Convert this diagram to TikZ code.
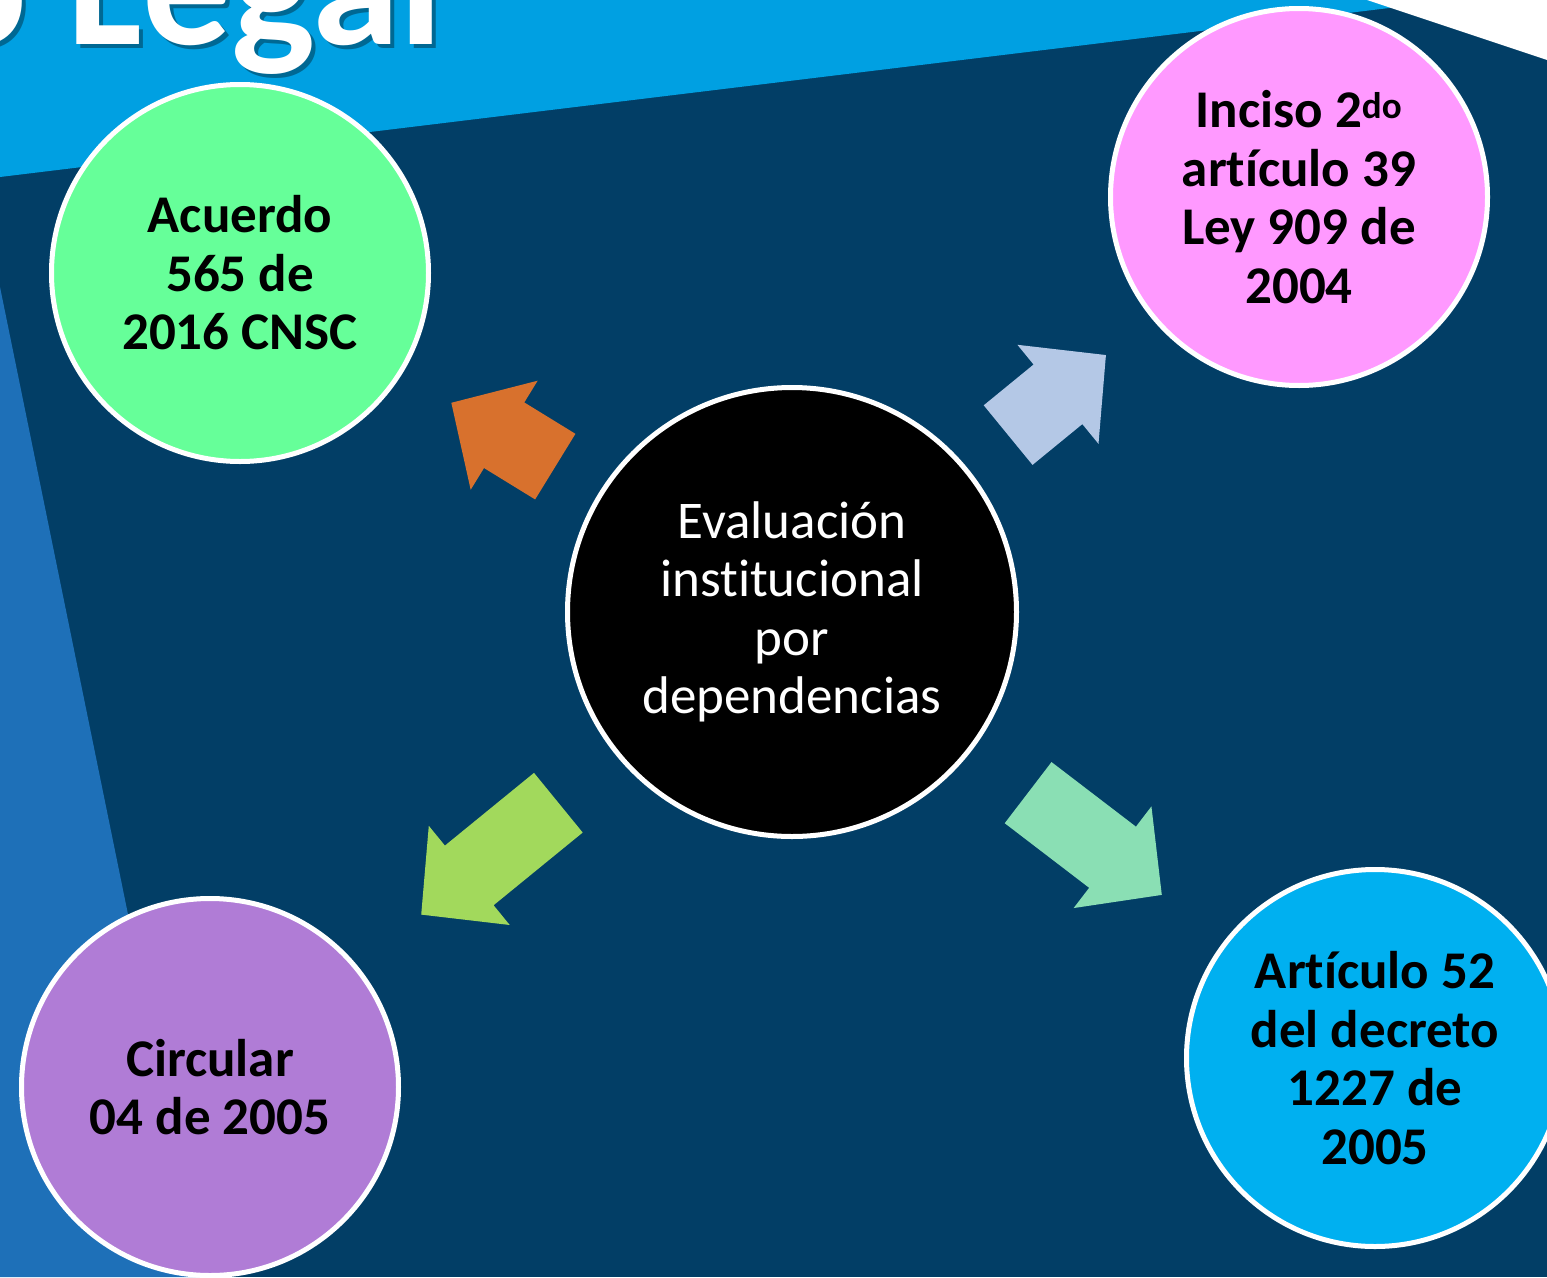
\documentclass[tikz,border=0pt]{standalone}
\usepackage{fontspec}
\setmainfont{Carlito}[Ligatures=NoCommon]
\usetikzlibrary{calc}
\definecolor{fondo}{RGB}{2,62,102}
\definecolor{franja}{RGB}{0,160,226}
\definecolor{lateral}{RGB}{30,112,184}
\definecolor{verde}{RGB}{102,255,153}
\definecolor{rosa}{RGB}{255,153,255}
\definecolor{lila}{RGB}{176,124,214}
\definecolor{celeste}{RGB}{0,176,240}
\definecolor{naranja}{RGB}{216,113,45}
\definecolor{azulclaro}{RGB}{180,200,230}
\definecolor{lima}{RGB}{162,217,92}
\definecolor{menta}{RGB}{138,223,180}

\begin{document}
\begin{tikzpicture}[x=1pt,y=-1pt]

\newcommand{\flecha}[6]{%
  \coordinate (bk) at ($(#1)!#3pt!(#2)$);
  \coordinate (nk) at ($(#1)!#4pt!(#2)$);
  \coordinate (tp) at ($(#1)!#5pt!(#2)$);
  \fill[#6] ($(bk)!38.5pt!90:(tp)$) -- ($(nk)!38.5pt!90:(tp)$)
    -- ($(nk)!64pt!90:(tp)$) -- (tp) -- ($(nk)!64pt!-90:(tp)$)
    -- ($(nk)!38.5pt!-90:(tp)$) -- ($(bk)!38.5pt!-90:(tp)$) -- cycle;
}
\useasboundingbox (0,0) rectangle (1547,1277);
\clip (0,0) rectangle (1547,1277);

% background bands
\fill[fondo] (0,0) rectangle (1547,1277);
\fill[franja] (0,0) -- (1455,0) -- (0,177) -- cycle;
\fill[lateral] (0,287) -- (202,1277) -- (0,1277) -- cycle;
\fill[white] (1367,0) -- (1547,0) -- (1547,60) -- cycle;

% title
\tikzstyle{titulo}=[anchor=base west, inner sep=0pt,
  font=\fontsize{177}{180}\selectfont\bfseries];
\node[titulo, text=black, opacity=0.35] (sombra) at (-64,48) {o Legal};
\node[titulo, text=white] (tit) at (-68,44) {o Legal};

\tikzstyle{disco}=[circle, draw=white, line width=5pt, minimum size=377pt,
  inner sep=0pt, align=center, font=\fontsize{53}{58.5}\selectfont\bfseries];

\node[disco, minimum size=449pt, fill=black, text=white,
  font=\fontsize{53}{58.5}\selectfont] (eval) at (792,612)
  {Evaluación\\institucional\\por\\dependencias};
\node[disco, fill=verde] (acuerdo) at (240,273) {Acuerdo\\565 de\\2016 CNSC};
\node[disco, fill=rosa] (inciso) at (1299,197)
  {Inciso 2\textsuperscript{do}\\artículo 39\\Ley 909 de\\2004};
\node[disco, fill=lila] (circular) at (210,1087) {Circular\\04 de 2005};
\node[disco, fill=celeste] (articulo) at (1375,1058)
  {Artículo 52\\del decreto\\1227 de\\2005};

% block arrows
\flecha{eval}{acuerdo}{277.8}{337.8}{399.8}{naranja}
\flecha{eval}{inciso}{279.3}{343.7}{405.7}{azulclaro}
\flecha{eval}{circular}{301.6}{416.6}{478.6}{lima}
\flecha{eval}{articulo}{297.3}{403.6}{465.6}{menta}

\end{tikzpicture}
\end{document}
